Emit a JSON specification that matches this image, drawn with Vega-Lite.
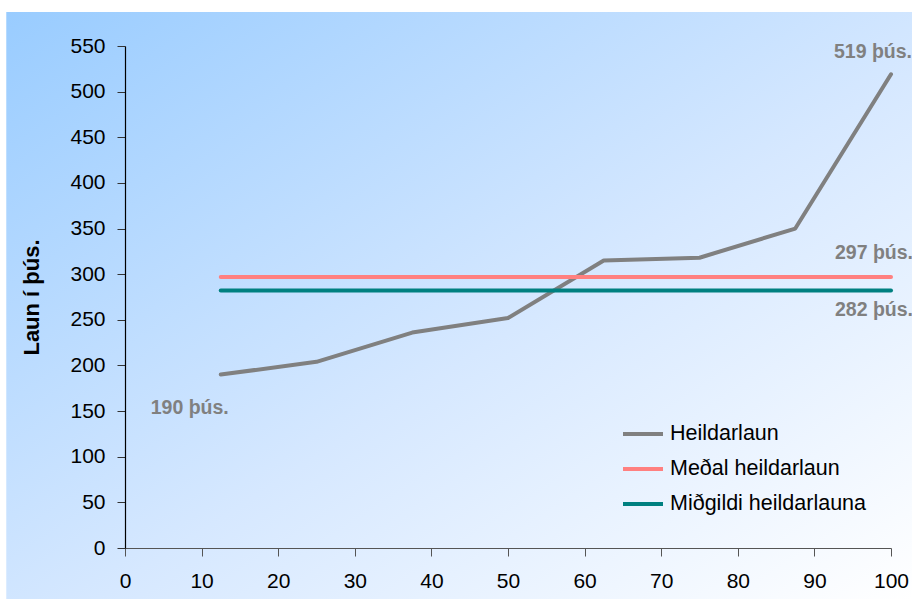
{
  "$schema": "https://vega.github.io/schema/vega-lite/v6.json",
  "width": 766,
  "height": 502,
  "autosize": "none",
  "padding": {"left": 125, "top": 46, "right": 21, "bottom": 51},
  "background": "#ffffff",
  "config": {
    "view": {"stroke": null},
    "font": "Liberation Sans",
    "axis": {"grid": false, "labelFlush": false, "labelOverlap": false, "labelFont": "Liberation Sans", "labelFontSize": 21, "labelColor": "#000000", "tickSize": 8, "tickWidth": 1, "domainWidth": 1.2}
  },
  "datasets": {
    "laun": [
      {"p": 12.5, "laun": 190, "series": "Heildarlaun"},
      {"p": 25, "laun": 204, "series": "Heildarlaun"},
      {"p": 37.5, "laun": 236, "series": "Heildarlaun"},
      {"p": 50, "laun": 252, "series": "Heildarlaun"},
      {"p": 62.5, "laun": 315, "series": "Heildarlaun"},
      {"p": 75, "laun": 318, "series": "Heildarlaun"},
      {"p": 87.5, "laun": 350, "series": "Heildarlaun"},
      {"p": 100, "laun": 519, "series": "Heildarlaun"},
      {"p": 12.5, "laun": 297, "series": "Meðal heildarlaun"},
      {"p": 100, "laun": 297, "series": "Meðal heildarlaun"},
      {"p": 12.5, "laun": 282, "series": "Miðgildi heildarlauna"},
      {"p": 100, "laun": 282, "series": "Miðgildi heildarlauna"}
    ],
    "labels": [
      {"p": 100, "laun": 519, "label": "519 þús."},
      {"p": 100, "laun": 297, "label": "297 þús."},
      {"p": 100, "laun": 282, "label": "282 þús."},
      {"p": 12.5, "laun": 190, "label": "190 þús."}
    ]
  },
  "layer": [
    {
      "data": {"values": [{}]},
      "mark": {
        "type": "rect",
        "fill": {
          "gradient": "linear", "x1": 0, "y1": 0, "x2": 1, "y2": 1,
          "stops": [
            {"offset": 0, "color": "#99CCFF"},
            {"offset": 0.55, "color": "#D6E8FF"},
            {"offset": 1, "color": "#FFFFFF"}
          ]
        }
      },
      "encoding": {
        "x": {"datum": -15.5, "type": "quantitative", "scale": {"domain": [0, 100], "nice": false}, "axis": {"title": null, "zindex": 1, "labelFlush": false, "values": [0,10,20,30,40,50,60,70,80,90,100], "labelPadding": 14, "domainColor": "#555555", "tickColor": "#555555"}},
        "x2": {"datum": 102.8},
        "y": {"datum": 587.3, "type": "quantitative", "scale": {"domain": [0, 550], "nice": false}, "axis": {"title": "Laun í þús.", "zindex": 1, "labelFlush": false, "titleFontSize": 22, "titleFont": "Liberation Sans", "titleFontWeight": "bold", "titleColor": "#000000", "titlePadding": 26, "values": [0,50,100,150,200,250,300,350,400,450,500,550], "labelPadding": 12, "domainColor": "#000000", "tickColor": "#333333"}},
        "y2": {"datum": -56}
      }
    },
    {
      "data": {"name": "laun"},
      "mark": {"type": "line", "strokeWidth": 4, "strokeCap": "round", "strokeJoin": "round"},
      "encoding": {
        "x": {"field": "p", "type": "quantitative"},
        "y": {"field": "laun", "type": "quantitative"},
        "color": {
          "field": "series", "type": "nominal",
          "scale": {"domain": ["Heildarlaun", "Meðal heildarlaun", "Miðgildi heildarlauna"], "range": ["#808080", "#FF8080", "#008080"]},
          "legend": {
            "title": null, "orient": "none", "legendX": 496, "legendY": 366,
            "symbolType": "stroke", "symbolStrokeWidth": 4, "symbolSize": 1600,
            "labelFontSize": 21.5, "labelFont": "Liberation Sans", "labelColor": "#000000", "labelLimit": 400,
            "rowPadding": 2, "labelOffset": 5
          }
        }
      }
    },
    {
      "data": {"name": "labels"},
      "transform": [{"filter": "datum.laun == 519"}],
      "mark": {"type": "text", "fontSize": 19.5, "fontWeight": "bold", "color": "#808080", "dx": -18, "dy": -22},
      "encoding": {"x": {"field": "p", "type": "quantitative"}, "y": {"field": "laun", "type": "quantitative"}, "text": {"field": "label"}}
    },
    {
      "data": {"name": "labels"},
      "transform": [{"filter": "datum.laun == 297"}],
      "mark": {"type": "text", "fontSize": 19.5, "fontWeight": "bold", "color": "#808080", "dx": -17, "dy": -24},
      "encoding": {"x": {"field": "p", "type": "quantitative"}, "y": {"field": "laun", "type": "quantitative"}, "text": {"field": "label"}}
    },
    {
      "data": {"name": "labels"},
      "transform": [{"filter": "datum.laun == 282"}],
      "mark": {"type": "text", "fontSize": 19.5, "fontWeight": "bold", "color": "#808080", "dx": -17, "dy": 19},
      "encoding": {"x": {"field": "p", "type": "quantitative"}, "y": {"field": "laun", "type": "quantitative"}, "text": {"field": "label"}}
    },
    {
      "data": {"name": "labels"},
      "transform": [{"filter": "datum.laun == 190"}],
      "mark": {"type": "text", "fontSize": 19.5, "fontWeight": "bold", "color": "#808080", "dx": -31, "dy": 33},
      "encoding": {"x": {"field": "p", "type": "quantitative"}, "y": {"field": "laun", "type": "quantitative"}, "text": {"field": "label"}}
    }
  ]
}
